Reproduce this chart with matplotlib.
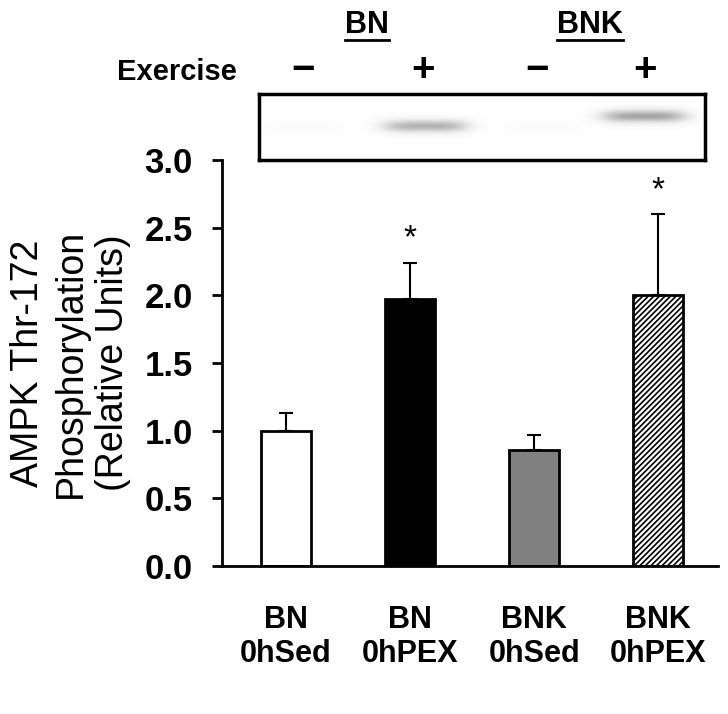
import numpy as np
import matplotlib
matplotlib.use("Agg")
import matplotlib.pyplot as plt

plt.rcParams['font.family'] = ['Liberation Sans', 'DejaVu Sans']
plt.rcParams['hatch.linewidth'] = 1.2

# data
groups = ["BN\n0hSed", "BN\n0hPEX", "BNK\n0hSed", "BNK\n0hPEX"]
means = [1.00, 1.97, 0.86, 2.00]
errors = [0.13, 0.27, 0.11, 0.60]
significant = [False, True, False, True]
colors = ["white", "black", "#808080", "white"]
hatches = [None, None, None, "//////"]
exercise = ["\u2212", "+", "\u2212", "+"]
band_strength = [0.03, 0.45, 0.03, 0.5]

fig = plt.figure(figsize=(7.28, 7.14), dpi=100)
ax = fig.add_axes([0.305, 0.207, 0.681, 0.569])

x = np.arange(len(groups))
ax.bar(x, means, width=0.4, color=colors, edgecolor="black", linewidth=2,
       hatch=hatches, zorder=2)
ax.errorbar(x, means, yerr=[np.zeros(len(errors)), errors], fmt="none",
            ecolor="black", elinewidth=1.5, capsize=5, capthick=1.5, zorder=1)
for xi, m, e, s in zip(x, means, errors, significant):
    if s:
        ax.text(xi, m + e + 0.06, "*", ha="center", va="bottom", fontsize=24)

ax.set_xlim(-0.516, 3.48)
ax.set_ylim(0, 3.0)
ax.set_yticks(np.arange(0, 3.01, 0.5))
ax.set_yticklabels([f"{v:.1f}" for v in np.arange(0, 3.01, 0.5)],
                   fontsize=25, fontweight="bold")
ax.set_xticks(x)
ax.set_xticklabels(groups, fontsize=22, fontweight="bold", linespacing=1.15)
ax.tick_params(axis="x", length=0, pad=28)
ax.tick_params(axis="y", length=7, width=2, direction="out", pad=14)
for side in ["top", "right"]:
    ax.spines[side].set_visible(False)
for side in ["left", "bottom"]:
    ax.spines[side].set_linewidth(2)
ax.set_ylabel("AMPK Thr-172\nPhosphorylation\n(Relative Units)", fontsize=27,
              linespacing=1.22, labelpad=10)

# blot strip
bax = fig.add_axes([259 / 728, 1 - 160 / 714, 446 / 728, 66 / 714])
xx = np.linspace(0, 446, 446)
yy = np.linspace(0, 66, 66)
XX, YY = np.meshgrid(xx, yy)
img = np.zeros_like(XX)
band_x = [45, 166, 285, 385]
band_y = [33, 32, 33, 22]
for bx, by, s in zip(band_x, band_y, band_strength):
    img += s * np.exp(-((XX - bx) / 45) ** 4 - ((YY - by) / 7) ** 2)
bax.imshow(img, cmap="Greys", vmin=0, vmax=1.1, aspect="auto",
           extent=[0, 446, 66, 0], interpolation="bilinear")
bax.set_xticks([])
bax.set_yticks([])
for sp in bax.spines.values():
    sp.set_linewidth(2.5)

# labels above the blot
lane_x = [303, 423, 537, 645]
for lx, sign in zip(lane_x, exercise):
    fig.text(lx / 728, 1 - 70 / 714, sign, ha="center", va="center",
             fontsize=29, fontweight="bold")
fig.text(177 / 728, 1 - 72 / 714, "Exercise", ha="center", va="center",
         fontsize=21, fontweight="bold")
for label, lx, w in [("BN", 367, 22), ("BNK", 590, 33)]:
    fig.text(lx / 728, 1 - 25 / 714, label, ha="center", va="center",
             fontsize=22, fontweight="bold")
    fig.add_artist(plt.Line2D([(lx - w) / 728, (lx + w) / 728],
                              [1 - 40 / 714, 1 - 40 / 714],
                              color="black", linewidth=2))

fig.savefig("out.png", dpi=100, facecolor="white")
